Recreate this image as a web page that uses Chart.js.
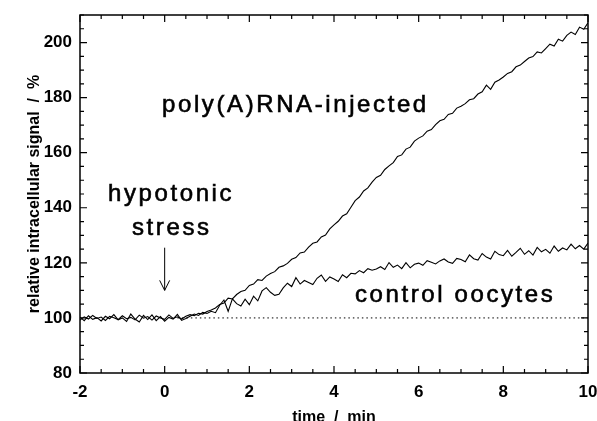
<!DOCTYPE html>
<html>
<head>
<meta charset="utf-8">
<script src="https://cdn.jsdelivr.net/npm/chart.js@4/dist/chart.umd.min.js"></script>
<style>
  html, body { margin: 0; padding: 0; background: #fff; }
  #wrap { width: 597px; height: 421px; }
</style>
</head>
<body>
<div id="wrap"><canvas id="myChart" width="597" height="421"></canvas></div>
<div id="err" style="font:10px monospace"></div>
<script>
// time axis, one sample every 0.1 min from -2 to 10
var times = [];
for (var i = 0; i <= 120; i++) times.push(Math.round((-2 + i * 0.1) * 10) / 10);

var polyA = [
  99.2, 100.4, 99.6, 100.9, 99.8, 100.3, 99.1, 100.6, 100.1, 99.4,
  100.8, 99.7, 100.2, 99.3, 101.0, 99.9, 100.5, 99.2, 100.7, 100.0,
  99.5, 101.1, 99.8, 100.4, 99.6, 100.6, 101.2, 100.8, 101.7, 101.4,
  102.3, 102.9, 103.6, 104.9, 105.4, 107.2, 106.9, 108.5, 109.6, 110.0,
  111.8, 112.3, 113.9, 113.6, 115.2, 116.1, 116.8, 118.4, 118.9, 119.8,
  121.3, 121.9, 123.6, 123.9, 125.7, 127.1, 127.6, 129.4, 130.1, 132.3,
  133.8, 135.1, 137.0, 137.8, 140.2, 142.6, 143.9, 146.1, 147.2, 149.3,
  151.0, 151.8, 153.9, 155.2, 156.4, 158.6, 159.2, 161.3, 162.0, 164.2,
  165.3, 166.1, 167.8, 168.4, 170.2, 171.6, 172.1, 173.9, 174.3, 176.2,
  176.9, 177.8, 179.2, 179.6, 181.3, 182.1, 184.5, 183.0, 185.6, 186.4,
  187.5, 188.8, 189.4, 191.2, 191.8, 193.1, 194.4, 194.9, 196.6, 196.2,
  197.8, 199.4, 198.7, 201.2, 200.5, 202.6, 203.8, 202.9, 205.6, 204.8,
  207.2
];

var control = [
  100.3, 99.0, 100.8, 99.5, 100.1, 98.9, 100.6, 99.7, 101.2, 99.3,
  100.0, 98.7, 101.4, 99.6, 98.5, 100.9, 99.4, 101.1, 99.0, 100.5,
  98.8, 100.2, 99.6, 101.3, 99.1, 99.8, 100.6, 101.4, 100.9, 102.0,
  101.6, 102.4, 101.9, 104.6, 106.5, 102.4, 106.9, 105.2, 104.3, 106.8,
  104.8, 107.9, 106.2, 109.8, 111.0, 109.3, 108.2, 108.6, 110.9, 112.6,
  111.4, 114.6, 112.3, 113.6, 112.9, 112.1, 114.4, 115.6, 113.3, 114.9,
  114.1, 113.2, 115.7, 114.6, 116.2, 116.0, 117.2, 116.4, 117.9, 117.3,
  117.8, 118.6, 117.6, 120.1, 118.4, 119.2, 117.9, 120.1, 118.2, 119.5,
  119.9, 119.1, 120.8, 120.2, 119.6, 120.7, 121.4, 120.3, 119.8, 121.6,
  121.2, 120.4, 122.9, 121.5, 121.0, 123.4, 122.1, 121.4, 124.2, 123.0,
  122.6, 124.5, 122.4, 123.8, 125.3, 123.1, 124.4, 122.8, 125.6, 124.0,
  124.9, 123.5, 126.1, 124.2, 125.4, 124.7, 126.8, 125.1, 126.3, 125.0,
  127.2
];

var baselineX = [0.3, 10];
var baselineY = [100, 100];

var xMin = -2, xMax = 10, xMajor = 2, xMinor = 0.5;
var yMin = 80, yMax = 210, yMajor = 20, yMinor = 5;

// annotation: arrow at time 0 from 125.5 down to 110
var arrowX = 0, arrowFrom = 125.5, arrowTo = 110;

function pts(xs, ys) {
  var out = [];
  for (var i = 0; i < xs.length; i++) out.push({ x: xs[i], y: ys[i] });
  return out;
}

var FONT = "'Liberation Sans', Arial, Helvetica, sans-serif";

function drawFrame(chart) {
  var ctx = chart.ctx, a = chart.chartArea;
  var xs = chart.scales.x, ys = chart.scales.y;
  ctx.save();
  ctx.setLineDash([]);
  ctx.strokeStyle = "#000";
  ctx.lineWidth = 1.5;
  ctx.strokeRect(a.left, a.top, a.right - a.left, a.bottom - a.top);
  ctx.lineWidth = 1.2;
  ctx.beginPath();
  var k, v, p, len;
  for (k = 0; k <= (xMax - xMin) / xMinor; k++) {
    v = xMin + k * xMinor;
    p = xs.getPixelForValue(v);
    len = (k % (xMajor / xMinor) === 0) ? 7 : 4;
    ctx.moveTo(p, a.bottom); ctx.lineTo(p, a.bottom - len);
    ctx.moveTo(p, a.top); ctx.lineTo(p, a.top + len);
  }
  for (k = 0; k <= (yMax - yMin) / yMinor; k++) {
    v = yMin + k * yMinor;
    p = ys.getPixelForValue(v);
    len = (v % yMajor === 0) ? 7 : 4;
    ctx.moveTo(a.left, p); ctx.lineTo(a.left + len, p);
    ctx.moveTo(a.right, p); ctx.lineTo(a.right - len, p);
  }
  ctx.stroke();
  ctx.restore();
}

function drawLabels(chart) {
  var ctx = chart.ctx;
  var xs = chart.scales.x, ys = chart.scales.y;
  ctx.save();
  ctx.fillStyle = "#000";
  ctx.strokeStyle = "#000";
  ctx.lineWidth = 0.6;
  ctx.font = "24px " + FONT;
  ctx.textBaseline = "alphabetic";
  ctx.textAlign = "left";
  if ("letterSpacing" in ctx) ctx.letterSpacing = "2.6px";
  var notes = [
    ["poly(A)RNA-injected", 162, 112],
    ["hypotonic", 108, 201],
    ["stress", 132, 235],
    ["control oocytes", 355, 302]
  ];
  notes.forEach(function(n) {
    ctx.fillText(n[0], n[1], n[2]);
    ctx.strokeText(n[0], n[1], n[2]);
  });
  if ("letterSpacing" in ctx) ctx.letterSpacing = "0px";

  // arrow
  var ax = xs.getPixelForValue(arrowX);
  var y0 = ys.getPixelForValue(arrowFrom), y1 = ys.getPixelForValue(arrowTo);
  ctx.lineWidth = 1;
  ctx.beginPath();
  ctx.moveTo(ax, y0); ctx.lineTo(ax, y1);
  ctx.moveTo(ax - 5, y1 - 10); ctx.lineTo(ax, y1); ctx.lineTo(ax + 5, y1 - 10);
  ctx.stroke();
  ctx.restore();
}

var extrasPlugin = {
  id: "extras",
  afterDatasetsDraw: function(chart) {
    try {
      drawLabels(chart);
      drawFrame(chart);
    } catch (e) {
      document.getElementById("err").textContent = e.message;
    }
  }
};

var ctx = document.getElementById("myChart").getContext("2d");
var myChart = new Chart(ctx, {
  type: "line",
  data: {
    datasets: [
      {
        label: "poly(A)RNA-injected",
        data: pts(times, polyA),
        borderColor: "#000",
        borderWidth: 1.1,
        pointRadius: 0,
        tension: 0
      },
      {
        label: "control oocytes",
        data: pts(times, control),
        borderColor: "#000",
        borderWidth: 1.1,
        pointRadius: 0,
        tension: 0
      },
      {
        label: "baseline",
        data: pts(baselineX, baselineY),
        borderColor: "#000",
        borderWidth: 1,
        borderDash: [1.5, 3],
        pointRadius: 0
      }
    ]
  },
  options: {
    responsive: false,
    animation: false,
    layout: { padding: { top: 15, right: 9, left: 0, bottom: 0 } },
    plugins: { legend: { display: false }, tooltip: { enabled: false } },
    scales: {
      x: {
        type: "linear",
        min: xMin,
        max: xMax,
        grid: { display: false, drawTicks: false },
        border: { display: false },
        ticks: {
          stepSize: xMajor,
          padding: 9,
          maxRotation: 0,
          color: "#000",
          font: { family: FONT, size: 17, weight: "bold" }
        },
        title: {
          display: true,
          text: "time  /  min",
          color: "#000",
          padding: { top: 0, bottom: -5 },
          font: { family: FONT, size: 16, weight: "bold", lineHeight: 1 }
        },
        afterFit: function(scale) {
          scale.height = 48;
          scale.paddingLeft = 0;
          scale.paddingRight = 0;
        }
      },
      y: {
        type: "linear",
        min: yMin,
        max: yMax,
        grid: { display: false, drawTicks: false },
        border: { display: false },
        ticks: {
          stepSize: yMajor,
          padding: 8,
          color: "#000",
          font: { family: FONT, size: 17, weight: "bold" },
          callback: function(v) { return v % yMajor === 0 ? v : ""; }
        },
        title: {
          display: true,
          text: "relative intracellular signal  /  %",
          color: "#000",
          padding: { top: 27, bottom: 0 },
          font: { family: FONT, size: 16, weight: "bold", lineHeight: 1 }
        },
        afterFit: function(scale) {
          scale.width = 80;
          scale.paddingTop = 0;
          scale.paddingBottom = 0;
        }
      }
    }
  },
  plugins: [extrasPlugin]
});
</script>
</body>
</html>
